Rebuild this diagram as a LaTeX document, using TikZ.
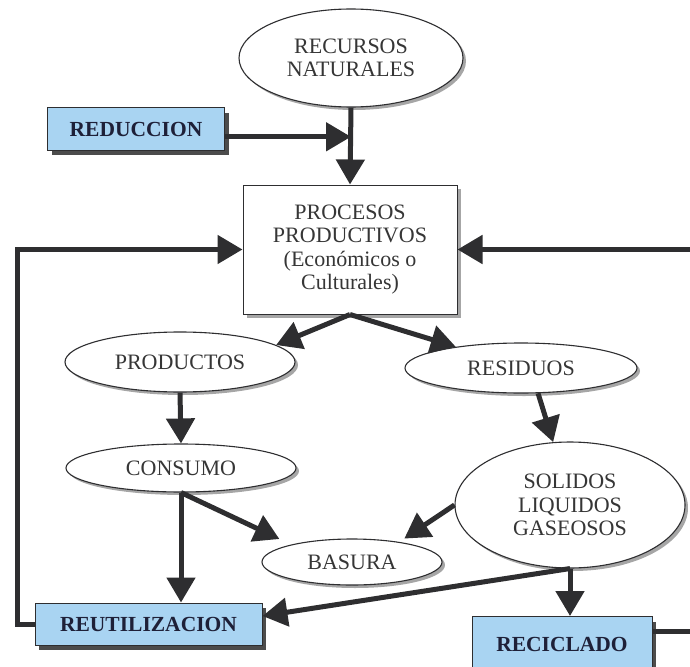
\documentclass[tikz,border=0pt]{standalone}
\usepackage{fontspec}
\setmainfont{Liberation Serif}
\usetikzlibrary{arrows.meta,shapes.geometric,shadows,calc}

\definecolor{lineC}{HTML}{2E2E30}
\definecolor{textC}{HTML}{363636}
\definecolor{boxBlue}{HTML}{A9D4F2}
\definecolor{boxText}{HTML}{1E2038}

\tikzset{
  oval/.style={ellipse, draw=lineC, line width=1.1pt, fill=white, inner sep=0pt,
    text=textC, align=center, font=\fontsize{22}{23.5}\selectfont,
    drop shadow={shadow xshift=3pt, shadow yshift=-3pt, fill=gray!70, opacity=1}},
  whitebox/.style={rectangle, draw=lineC, line width=1pt, fill=white, inner sep=0pt,
    text=textC, align=center, font=\fontsize{22}{23.5}\selectfont,
    drop shadow={shadow xshift=4pt, shadow yshift=-4pt, fill=gray!70, opacity=1}},
  bluebox/.style={rectangle, draw=lineC, line width=1pt, fill=boxBlue, inner sep=0pt,
    text=boxText, font=\fontsize{21.5}{24}\selectfont\bfseries,
    drop shadow={shadow xshift=4pt, shadow yshift=-5pt, fill=black!70, opacity=1}},
  flow/.style={line width=5pt, draw=lineC,
    -{Triangle[length=25pt,width=28pt]}},
  link/.style={line width=5pt, draw=lineC},
}

\begin{document}
\begin{tikzpicture}[x=1pt,y=-1pt]
\useasboundingbox (0,0) rectangle (690,666);

% nodes
\node[oval, minimum width=224pt, minimum height=98pt] (recursos) at (351,58) {RECURSOS\\NATURALES};
\node[bluebox, minimum width=177pt, minimum height=42pt] (reduccion) at (136,129) {REDUCCION};
\node[whitebox, minimum width=214pt, minimum height=129pt] (procesos) at (350,249.5)
  {PROCESOS\\PRODUCTIVOS\\(Económicos o\\Culturales)};
\node[oval, minimum width=230pt, minimum height=60pt] (productos) at (180,362) {PRODUCTOS};
\node[oval, minimum width=232pt, minimum height=50pt] (residuos) at (521,368) {RESIDUOS};
\node[oval, minimum width=230pt, minimum height=48pt] (consumo) at (181,468) {CONSUMO};
\node[oval, minimum width=230pt, minimum height=126pt] (solidos) at (570,505) {SOLIDOS\\LIQUIDOS\\GASEOSOS};
\node[oval, minimum width=180pt, minimum height=46pt] (basura) at (352,562) {BASURA};
\node[bluebox, minimum width=227pt, minimum height=42pt] (reutil) at (148.5,624) {REUTILIZACION};
\node[bluebox, minimum width=180pt, minimum height=55pt] (reciclado) at (562,644) {RECICLADO};

% free ends at the margins
\coordinate (loopL) at (17,0);
\coordinate (edgeR) at (694,0);

% connectors
\draw[flow] (recursos.south) -- (procesos.north);
\draw[flow] (reduccion.-5) -- (reduccion.-5 -| recursos.south);
\draw[flow] (procesos.south) -- (productos.10);
\draw[flow] (procesos.south) -- (residuos.162);
\draw[flow] (productos.south) -- (consumo.north);
\draw[flow] (residuos.-56) -- (solidos.105);
\draw[flow, shorten >=13pt] (consumo.south) -- (basura.164);
\draw[flow, shorten >=6pt] (solidos.west) -- (basura.23);
\draw[flow] (consumo.south) -- (consumo.south |- reutil.north);
\draw[flow] (solidos.south) -- (reutil.4);
\draw[flow] (solidos.south) -- (solidos.south |- reciclado.north);
\draw[flow, line join=miter] (reutil.west) -- (reutil.west -| loopL) |- (procesos.west);
\draw[flow] (edgeR |- procesos.east) -- (procesos.east);
\draw[link] (reciclado.8) -- (reciclado.8 -| edgeR);
\end{tikzpicture}
\end{document}
